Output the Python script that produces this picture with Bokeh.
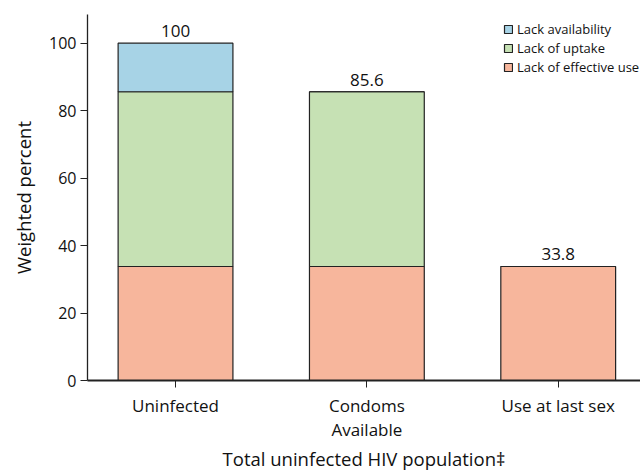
from bokeh.plotting import figure
from bokeh.models import ColumnDataSource, FixedTicker, Range1d, Legend, LegendItem
from bokeh.core.properties import value
from bokeh.embed import file_html
from bokeh.resources import INLINE

categories = ["Uninfected", "Condoms\nAvailable", "Use at last sex"]
lack_effective_use = [33.8, 33.8, 33.8]
lack_uptake = [51.8, 51.8, 0.0]
lack_availability = [14.4, 0.0, 0.0]
totals = [100, 85.6, 33.8]
total_labels = ["100", "85.6", "33.8"]
y_ticks = [0, 20, 40, 60, 80, 100]

positions = [0.5, 1.5, 2.5]

FONT = "Open Sans"

src = ColumnDataSource(dict(
    x=positions,
    eff=lack_effective_use,
    upt=lack_uptake,
    ava=lack_availability,
    tot=totals,
    lab=total_labels,
))

p = figure(width=640, height=473, output_backend="svg", toolbar_location=None,
           x_range=Range1d(0.04, 2.93), y_range=Range1d(0, 108.5),
           min_border_left=87, min_border_right=0, min_border_top=14,
           min_border_bottom=88)
p.outline_line_color = None
p.xgrid.visible = False
p.ygrid.visible = False

colors = ["#f7b69c", "#c6e1b4", "#a7d3e6"]
rs = p.vbar_stack(["eff", "upt", "ava"], x="x", width=0.6, source=src,
                  color=colors, line_color="#222222", line_width=1.2)

p.text(x="x", y="tot", text="lab", source=src, text_align="center",
       text_baseline="bottom", y_offset=-6, text_font=value(FONT),
       text_font_size="17px", text_color="#111111")

legend = Legend(items=[
    LegendItem(label="Lack availability", renderers=[rs[2]]),
    LegendItem(label="Lack of uptake", renderers=[rs[1]]),
    LegendItem(label="Lack of effective use", renderers=[rs[0]]),
], location=(416, 304))
legend.background_fill_alpha = 0
legend.border_line_color = None
legend.padding = 0
legend.margin = 0
legend.spacing = 1
legend.glyph_width = 10
legend.glyph_height = 10
legend.label_standoff = 4
legend.label_height = 13
legend.label_text_font = FONT
legend.label_text_font_size = "13px"
legend.label_text_color = "#111111"
p.add_layout(legend, "center")

# axes
p.xaxis.ticker = FixedTicker(ticks=positions)
p.xaxis.major_label_overrides = {pos: c for pos, c in zip(positions, categories)}
p.xaxis.minor_tick_line_color = None
p.xaxis.major_tick_in = 0
p.xaxis.major_tick_out = 7
p.xaxis.axis_line_width = 2
p.xaxis.axis_line_color = "#222222"
p.xaxis.major_tick_line_color = "#222222"
p.xaxis.major_label_text_font = FONT
p.xaxis.major_label_text_font_size = "17px"
p.xaxis.major_label_text_color = "#111111"
p.xaxis.major_label_text_line_height = 1.05
p.xaxis.major_label_standoff = 6
p.xaxis.axis_label = "Total uninfected HIV population\u2021"
p.xaxis.axis_label_text_font = FONT
p.xaxis.axis_label_text_font_size = "18.5px"
p.xaxis.axis_label_text_font_style = "normal"
p.xaxis.axis_label_text_color = "#111111"
p.xaxis.axis_label_text_line_height = 0.9
p.xaxis.axis_label_standoff = 2

p.yaxis.ticker = FixedTicker(ticks=y_ticks)
p.yaxis.minor_tick_line_color = None
p.yaxis.major_tick_in = 0
p.yaxis.major_tick_out = 7
p.yaxis.axis_line_width = 1.3
p.yaxis.axis_line_color = "#222222"
p.yaxis.major_tick_line_color = "#222222"
p.yaxis.major_label_text_font = FONT
p.yaxis.major_label_text_font_size = "16px"
p.yaxis.major_label_text_color = "#111111"
p.yaxis.major_label_standoff = 4
p.yaxis.axis_label = "Weighted percent"
p.yaxis.axis_label_text_font = FONT
p.yaxis.axis_label_text_font_size = "18.5px"
p.yaxis.axis_label_text_font_style = "normal"
p.yaxis.axis_label_text_color = "#111111"
p.yaxis.axis_label_standoff = 10

open("out.html", "w").write(file_html(p, INLINE))
